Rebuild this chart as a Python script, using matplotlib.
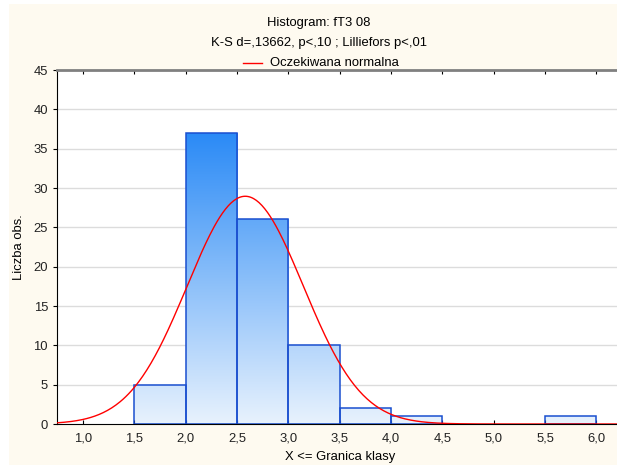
import numpy as np
import matplotlib
matplotlib.use("Agg")
import matplotlib.pyplot as plt
from matplotlib.patches import Rectangle
from matplotlib.colors import LinearSegmentedColormap

plt.rcParams['font.family'] = ['Liberation Sans', 'DejaVu Sans']

# histogram data: class edges and counts
bin_left = [1.5, 2.0, 2.5, 3.0, 3.5, 4.0, 5.5]
counts = [5, 37, 26, 10, 2, 1, 1]
bin_width = 0.5
n_total = sum(counts)

# expected normal parameters (fitted)
mean = 2.58
sd = 0.565

xticks = [1.0, 1.5, 2.0, 2.5, 3.0, 3.5, 4.0, 4.5, 5.0, 5.5, 6.0]
xtick_labels = ["1,0", "1,5", "2,0", "2,5", "3,0", "3,5", "4,0", "4,5", "5,0", "5,5", "6,0"]
yticks = [0, 5, 10, 15, 20, 25, 30, 35, 40, 45]

fs = 9.4

fig = plt.figure(figsize=(6.17, 4.65), dpi=100)
fig.patch.set_facecolor("white")
fig.patches.append(Rectangle((9 / 617, 0), 1, 1 - 4 / 465, transform=fig.transFigure,
                             facecolor="#fefaf0", edgecolor="none", zorder=-10))

ax = fig.add_axes([57 / 617, 41 / 465, 1 - 57 / 617, (424 - 70) / 465])
ax.set_facecolor("white")
ax.set_xlim(0.747, 6.2)
ax.set_ylim(0, 45)

for y in yticks[1:]:
    ax.axhline(y, color="#dcdcdc", lw=1, zorder=0)

# gradient bars
cmap = LinearSegmentedColormap.from_list("bars", ["#e8f2fd", "#2a8af6"])
grad = np.linspace(0, 1, 256).reshape(-1, 1)
ymax = max(counts)
for x0, c in zip(bin_left, counts):
    im = ax.imshow(grad, cmap=cmap, origin="lower", aspect="auto",
                   extent=(0.747, 6.2, 0, ymax), zorder=1)
    r = Rectangle((x0, 0), bin_width, c, facecolor="none", edgecolor="#1a4fcf",
                  lw=1.1, zorder=2)
    ax.add_patch(r)
    im.set_clip_path(r)

xs = np.linspace(0.747, 6.2, 400)
ys = n_total * bin_width / (sd * np.sqrt(2 * np.pi)) * np.exp(-0.5 * ((xs - mean) / sd) ** 2)
ax.plot(xs, ys, color="red", lw=1, zorder=3)

ax.set_xticks(xticks)
ax.set_xticklabels(xtick_labels, fontsize=fs)
ax.set_yticks(yticks)
ax.tick_params(axis="y", labelsize=fs, length=3, direction="out", labelcolor="#222222")
ax.tick_params(axis="x", direction="in", length=3, top=True, pad=6, labelcolor="#222222")
ax.spines["right"].set_visible(False)
ax.spines["top"].set_color("#808080")
ax.spines["top"].set_linewidth(2)
ax.spines["left"].set_color("black")
ax.spines["bottom"].set_color("black")
ax.spines["bottom"].set_zorder(4)

ax.set_ylabel("Liczba obs.", fontsize=fs, labelpad=6)
fig.text(340 / 617, 1 - 457 / 465, "X <= Granica klasy", ha="center", va="center", fontsize=fs)

fig.text(319 / 617, 1 - 23 / 465, "Histogram: fT3 08", ha="center", va="center", fontsize=fs)
fig.text(319 / 617, 1 - 43 / 465, "K-S d=,13662, p<,10 ; Lilliefors p<,01",
         ha="center", va="center", fontsize=fs)
fig.lines.append(plt.Line2D([243 / 617, 262 / 617], [1 - 63 / 465, 1 - 63 / 465],
                            transform=fig.transFigure, color="red", lw=1))
fig.text(270 / 617, 1 - 63 / 465, "Oczekiwana normalna", ha="left", va="center", fontsize=fs)

fig.savefig("out.png", dpi=100)
